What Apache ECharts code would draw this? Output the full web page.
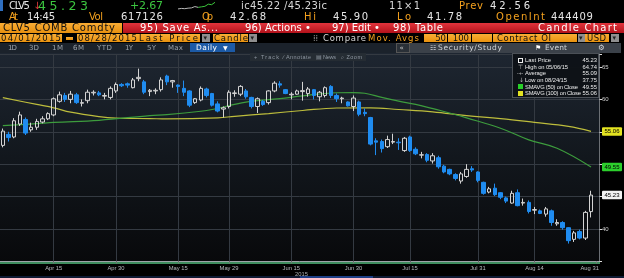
<!DOCTYPE html>
<html><head><meta charset="utf-8">
<script src="https://cdn.jsdelivr.net/npm/echarts@6/dist/echarts.min.js"></script>
<style>
html,body{margin:0;padding:0;background:#000;}
#wrap{position:relative;width:624px;height:278px;overflow:hidden;background:#000;}
.abs{position:absolute;white-space:nowrap;}
</style></head><body>
<div id="wrap">
  <div class="abs" style="left:0;top:52.5px;width:600px;height:209px;background:linear-gradient(#1e2631,#12171d 50%,#08090b);"></div>
  <div class="abs" style="left:0;top:261.8px;width:600px;height:2.4px;background:#3f8d5e;"></div>
  <div class="abs" style="left:0;top:276px;width:624px;height:2px;background:#0e1a33;"></div>
  <div class="abs" style="left:300px;top:276px;width:73px;height:2px;background:#1d3f86;"></div>
  <div id="chart" class="abs" style="left:0;top:0;width:624px;height:278px;"></div>
  <div id="ui"></div>
</div>
<script>
// ---------- DATA ----------
const dates = ['04-01','04-02','04-06','04-07','04-08','04-09','04-10','04-13','04-14','04-15','04-16','04-17','04-20','04-21','04-22','04-23','04-24','04-27','04-28','04-29','04-30',
 '05-01','05-04','05-05','05-06','05-07','05-08','05-11','05-12','05-13','05-14','05-15','05-18','05-19','05-20','05-21','05-22','05-26','05-27','05-28','05-29',
 '06-01','06-02','06-03','06-04','06-05','06-08','06-09','06-10','06-11','06-12','06-15','06-16','06-17','06-18','06-19','06-22','06-23','06-24','06-25','06-26','06-29','06-30',
 '07-01','07-02','07-06','07-07','07-08','07-09','07-10','07-13','07-14','07-15','07-16','07-17','07-20','07-21','07-22','07-23','07-24','07-27','07-28','07-29','07-30','07-31',
 '08-03','08-04','08-05','08-06','08-07','08-10','08-11','08-12','08-13','08-14','08-17','08-18','08-19','08-20','08-21','08-24','08-25','08-26','08-27','08-28','08-31'];
const opens = [52.9,54.6,54.2,56.2,56.9,55.3,55.7,56.5,57.0,57.6,
 59.7,60.6,60.0,60.7,59.4,59.8,61.0,61.0,60.5,60.3,
 61.3,62.3,62.4,61.8,63.2,62.7,61.2,61.3,61.5,63.6,
 62.7,62.2,61.7,61.3,59.5,59.9,61.6,60.9,59.3,58.5,
 58.9,60.9,60.8,61.3,60.3,58.9,59.7,59.5,61.3,62.4,
 61.5,60.7,60.8,61.2,60.9,61.5,60.4,60.6,62.0,60.6,
 60.1,59.6,58.9,59.6,58.0,57.2,53.6,53.5,52.7,53.4,
 53.4,52.1,54.2,52.3,51.4,51.5,50.5,51.0,49.7,49.2,
 48.4,47.4,48.1,49.3,48.8,47.2,45.7,46.3,45.6,44.8,
 44.0,45.6,44.0,44.1,42.9,42.8,42.3,42.8,40.8,41.0,
 40.2,38.4,39.6,38.6,42.68];
const closes = [55.1,54.1,56.7,57.6,54.8,55.7,56.6,57.0,57.8,60.1,
 60.7,60.0,60.8,59.5,59.5,61.1,61.1,60.7,60.6,61.7,
 62.3,62.1,62.2,63.0,63.4,61.1,61.4,61.4,63.0,62.7,
 62.9,62.0,61.1,59.1,60.1,61.7,60.6,59.1,58.2,58.7,
 61.1,61.0,62.0,60.4,58.9,60.1,59.2,61.3,62.5,62.2,
 60.9,60.8,61.3,61.35,61.6,60.6,61.1,61.8,60.6,60.1,
 60.2,59.0,60.2,57.7,57.8,53.1,53.4,52.4,53.8,53.5,
 53.3,54.0,52.1,51.6,51.45,50.6,51.3,49.6,48.8,48.5,
 47.8,48.5,49.2,49.1,47.5,45.5,46.2,45.3,44.9,44.3,
 45.5,43.6,44.1,42.7,43.0,42.4,43.1,41.0,41.0,40.2,
 38.2,39.4,38.6,42.56,45.23];
const lows = [52.6,53.5,54.0,55.9,54.5,55.0,55.3,56.3,56.8,57.4,
 59.5,59.6,59.4,59.3,58.9,59.4,60.6,60.5,60.0,60.0,
 61.0,61.9,61.8,61.7,62.8,60.8,60.5,60.8,61.2,62.2,
 61.8,61.0,60.5,58.8,59.3,59.7,60.3,58.9,58.0,57.2,
 58.6,60.4,60.5,60.1,58.6,57.9,59.0,59.2,61.1,61.8,
 60.8,60.0,60.7,59.8,60.4,60.0,59.7,60.3,60.2,59.6,
 59.4,58.9,58.2,57.4,57.4,52.9,51.4,51.8,52.5,53.1,
 52.2,51.9,51.9,51.4,50.9,50.3,50.1,49.3,48.6,48.3,
 47.5,47.0,47.9,48.8,47.2,45.3,45.5,45.1,44.6,44.0,
 43.9,43.5,43.6,42.4,42.3,42.3,41.9,40.5,40.5,39.9,
 37.75,38.0,38.4,38.3,41.78];
const highs = [55.5,55.0,57.1,58.1,57.2,56.4,57.0,57.4,58.0,60.3,
 61.2,61.0,61.3,61.0,60.0,61.5,61.4,61.3,61.0,62.0,
 62.6,62.5,62.6,63.3,64.74,63.0,61.6,61.7,63.4,63.8,
 63.0,62.3,62.9,61.4,60.2,62.0,61.8,61.0,59.7,58.9,
 61.4,61.4,62.2,61.6,60.4,60.3,59.9,61.4,62.8,62.8,
 61.6,61.1,61.5,62.7,61.9,61.6,61.3,62.0,62.2,60.9,
 60.4,59.7,60.6,59.8,58.6,57.3,54.0,53.8,54.4,54.7,
 54.0,54.2,54.4,52.6,51.9,51.7,51.7,51.3,49.9,49.3,
 48.6,48.8,50.0,49.7,48.9,47.3,46.5,47.0,45.7,45.0,
 45.9,46.1,44.7,44.4,43.4,43.0,43.4,43.0,41.5,41.2,
 40.3,39.7,39.9,42.8,45.90];
// moving averages: [category index, value]
const sma50 = [[0,55.94],[6,56.25],[9,56.45],[17,56.77],[26,57.5],[29,57.66],[35,58.17],[37,58.44],[43,59.58],[49,60.11],[53,60.55],[59,61.02],[62,61.05],[64,60.94],[67,60.31],[70,59.73],[73,59.22],[78,58.13],[82,57.14],[88,55.55],[93,53.75],[98,52.45],[104,49.55]];
const sma100 = [[0,60.27],[6,59.22],[9,58.70],[12,58.02],[17,57.34],[20,57.11],[26,57.03],[29,56.98],[38,57.14],[41,57.39],[47,57.81],[53,58.28],[59,58.67],[65,58.70],[70,58.44],[76,58.08],[82,57.50],[88,57.03],[94,56.45],[100,55.83],[104,55.06]];
const tickKeys = ['04-15','04-30','05-15','05-29','06-15','06-30','07-15','07-31','08-14','08-31'];
const tickLabels = ['Apr 15','Apr 30','May 15','May 29','Jun 15','Jun 30','Jul 15','Jul 31','Aug 14','Aug 31'];
const yTickLabels = [40, 60, 65];
const sparkTimes = ['09:00','09:30','10:00','10:30','11:00','11:30','12:00','12:30','13:00','13:30','14:00','14:30'];
const sparkGrey = [42.7,42.9,42.8,43.0,43.1,43.6,43.3,'-','-','-','-','-'];
const sparkGreen = ['-','-','-','-','-','-',43.3,43.5,43.7,44.5,44.3,45.2];

// ---------- CHART ----------
const GRID_C = '#343a42';
const candleData = opens.map((o, i) => [o, closes[i], lows[i], highs[i]]);
const lastClose = closes[closes.length - 1];
const last50 = sma50[sma50.length - 1][1];
const last100 = sma100[sma100.length - 1][1];
function priceBox(v, bg) {
  return {yAxis: v, lineStyle: {color: 'rgba(0,0,0,0)', width: 0.01},
    label: {show: true, position: 'end', distance: 2.5, formatter: v.toFixed(2), backgroundColor: bg, color: '#000',
      fontSize: 6, fontFamily: 'Liberation Sans', padding: [1.5, 2.5, 1, 2.5], borderRadius: 1}};
}
const chart = echarts.init(document.getElementById('chart'), null, {renderer: 'canvas'});
chart.setOption({
  animation: false,
  backgroundColor: 'transparent',
  grid: [{left: -2, right: 24.5, top: 54, bottom: 16.6}, {left: 178, top: 1.5, width: 37, height: 8}],
  xAxis: [{
    type: 'category', data: dates, boundaryGap: true,
    axisLine: {show: true, lineStyle: {color: '#9ea3a8', width: 1}},
    axisTick: {show: true, alignWithLabel: true, length: 2, interval: (i, v) => tickKeys.includes(v), lineStyle: {color: '#777'}},
    axisLabel: {interval: (i, v) => tickKeys.includes(v), fontSize: 5.8, color: '#b8bcc0', margin: 3.5, fontFamily: 'Liberation Sans',
      formatter: v => { const k = tickKeys.indexOf(v); if (k < 0) return ''; return v === '08-31' ? '{r|' + tickLabels[k] + '}' : tickLabels[k]; },
      rich: {r: {fontSize: 5.8, color: '#b8bcc0', fontFamily: 'Liberation Sans', padding: [0, 14, 0, 0]}}},
    splitLine: {show: false}
  }, {type: 'category', gridIndex: 1, data: sparkTimes, show: false, boundaryGap: false}],
  yAxis: [{
    type: 'value', position: 'right', min: 35, max: 67, interval: 5,
    axisLine: {show: true, lineStyle: {color: '#6b6f74'}},
    axisTick: {show: true, length: 2.5, lineStyle: {color: '#ddd'}},
    axisLabel: {fontSize: 6, color: '#d0d0d0', margin: 2.5, fontFamily: 'Liberation Sans', formatter: v => yTickLabels.includes(v) ? String(v) : ''},
    splitLine: {show: true, lineStyle: {color: GRID_C, width: 1}}
  }, {type: 'value', gridIndex: 1, show: false, scale: true}],
  series: [
    {type: 'line', name: 'SMAVG (100)', data: sma100, smooth: 0.4, showSymbol: false, z: 1,
     lineStyle: {color: '#bdbd3c', width: 1.2},
     markLine: {silent: true, symbol: ['none', 'none'], animation: false, data: [priceBox(last100, '#e3e321')]}},
    {type: 'line', name: 'SMAVG (50)', data: sma50, smooth: 0.4, showSymbol: false, z: 1,
     lineStyle: {color: '#3d9c3d', width: 1.2},
     markLine: {silent: true, symbol: ['none', 'none'], animation: false, data: [priceBox(last50, '#2ccf2c')]}},
    {type: 'candlestick', name: 'CLV5', data: candleData, barWidth: 4, z: 2,
     itemStyle: {color: 'rgba(0,0,0,0)', color0: '#1f8cf0', borderColor: '#d4d4d4', borderColor0: '#1f8cf0', borderWidth: 1},
     markLine: {silent: true, symbol: ['none', 'none'], animation: false, z: 1,
       lineStyle: {color: GRID_C, width: 1, type: 'solid'}, label: {show: false},
       data: tickKeys.slice(0, -1).map(k => ({xAxis: k})).concat([priceBox(lastClose, '#f2f2f2')])}},
    {type: 'line', xAxisIndex: 1, yAxisIndex: 1, data: sparkGrey, showSymbol: false, lineStyle: {color: '#b9b9b9', width: 1}},
    {type: 'line', xAxisIndex: 1, yAxisIndex: 1, data: sparkGreen, showSymbol: false, lineStyle: {color: '#3cc63c', width: 1}}
  ]
});

// ---------- TERMINAL CHROME ----------
const ui = document.getElementById('ui');
const ORANGE = '#f4a11e', WHITE = '#e6e6e6';
function box(x, y, w, h, bg, extra) {
  const d = document.createElement('div'); d.className = 'abs';
  d.style.cssText += `left:${x}px;top:${y}px;width:${w}px;height:${h}px;background:${bg};` + (extra || '');
  ui.appendChild(d); return d;
}
function txt(s, x, yc, o) {
  o = o || {};
  const fs = o.fs || 10;
  const d = document.createElement('div'); d.className = 'abs'; d.textContent = s;
  d.style.fontSize = fs + 'px';
  d.style.fontFamily = o.ff || '"DejaVu Sans", sans-serif';
  d.style.color = o.c || WHITE;
  if (o.b) d.style.fontWeight = 'bold';
  const h = Math.ceil(fs * 1.3);
  d.style.lineHeight = h + 'px'; d.style.height = h + 'px';
  d.style.top = (yc - h / 2) + 'px'; d.style.left = '0px';
  ui.appendChild(d);
  const nat = d.getBoundingClientRect().width;
  const n = Array.from(s).length;
  let ls = 0;
  if (o.w && n > 1) { ls = (o.w - nat) / (n - 1); d.style.letterSpacing = ls + 'px'; }
  const vis = nat + ls * (n - 1);
  d.style.left = (o.right ? x - vis : x) + 'px';
  return d;
}
// row 1
box(0, 0, 3, 11, '#2f6fc0');
txt('CLV5', 9, 5.5, {fs: 10, w: 21});
txt('↓', 33, 5.5, {fs: 10, c: '#e23b3b'});
txt('45.23', 38, 5.5, {fs: 12.5, w: 50, c: '#3cc640'});
txt('+2.67', 130, 5.5, {fs: 11, w: 33, c: '#3cc640'});
txt('ic45.22 /45.23ic', 241, 5.5, {fs: 10, w: 86, c: '#d8d8d8'});
txt('11×1', 389, 5.5, {fs: 10, w: 31, c: '#d8d8d8'});
txt('Prev', 459, 5.5, {fs: 10, w: 24, c: ORANGE});
txt('42.56', 490, 5.5, {fs: 10, w: 40});
// row 2
const r2 = 16.8;
[['At',9,9,ORANGE],['14:45',27,28,WHITE],['Vol',89,14,ORANGE],['617126',121,42,WHITE],['Op',202,11,ORANGE],['42.68',230,36,WHITE],
 ['Hi',304,12,ORANGE],['45.90',333,35,WHITE],['Lo',397,14,ORANGE],['41.78',427,35,WHITE],['OpenInt',496,49,ORANGE],['444409',551,42,WHITE]]
 .forEach(a => txt(a[0], a[1], r2, {fs: 10, w: a[2], c: a[3]}));
// row 3
box(0, 22.5, 122, 10.8, 'linear-gradient(#f9ad35,#e8900f)');
txt('CLV5 COMB Comdty', 3, 27.9, {fs: 10, w: 112, c: '#111'});
box(123, 22.5, 501, 10.8, 'linear-gradient(#e2343c,#b3121b)');
txt('95) Save As...', 140, 27.9, {fs: 10, w: 78, c: '#fff'});
txt('96) Actions •', 245, 27.9, {fs: 10, w: 66, c: '#fff'});
txt('97) Edit •', 332, 27.9, {fs: 10, w: 48, c: '#fff'});
txt('98) Table', 393, 27.9, {fs: 10, w: 50, c: '#fff'});
txt('Candle Chart', 617, 27.9, {fs: 10, w: 79, c: '#fff', right: true});
// row 4
const r4 = 38;
const ob = 'linear-gradient(#f9ad35,#ea930f)';
box(0, 33.6, 62, 8.8, ob); txt('04/01/2015', 1, r4, {fs: 8.5, w: 60, c: '#111'});
box(66, 36.5, 7, 3.5, ob);
box(77, 33.6, 123, 8.8, ob); txt('08/28/2015', 78, r4, {fs: 8.5, w: 59, c: '#111'}); txt('Last Price', 139, r4, {fs: 8.5, w: 59, c: '#111'});
box(202, 34, 8, 8, '#8f8f8f'); txt('▾', 203.5, r4, {fs: 7, c: '#222'});
box(213, 33.6, 35, 8.8, ob, 'overflow:hidden;'); txt('Candle', 214, r4, {fs: 8.5, w: 34, c: '#111'});
box(249, 34, 8, 8, '#8f8f8f'); txt('▾', 250.5, r4, {fs: 7, c: '#222'});
txt('⁞⁞', 313, r4, {fs: 8, c: '#9a9a9a'});
txt('Compare', 323, r4, {fs: 8.5, w: 43, c: '#d6d6d6'});
txt('Mov. Avgs', 368, r4, {fs: 8.5, w: 51, c: ORANGE});
box(424, 33.6, 23, 8.8, ob); txt('50', 446, r4, {fs: 8.5, c: '#111', right: true});
box(448, 33.6, 23, 8.8, ob); txt('100', 469, r4, {fs: 8.5, c: '#111', right: true});
box(472, 33.6, 20, 8.8, ob);
box(493, 33.6, 84, 8.8, ob); txt('Contract OI', 497, r4, {fs: 8.5, w: 54, c: '#111'});
box(578, 34, 7, 8, '#8f8f8f'); txt('▾', 579, r4, {fs: 7, c: '#222'});
box(585, 33.6, 24, 8.8, ob); txt('USD', 587, r4, {fs: 8.5, w: 19, c: '#111'});
box(611, 34, 8, 8, '#8f8f8f'); txt('▾', 612.5, r4, {fs: 7, c: '#222'});
// row 5
const r5 = 47.6;
box(0, 42.6, 396, 10, '#1b222b');
[['1D',8,9],['3D',29,10],['1M',52,11],['6M',73,11],['YTD',97,15],['1Y',125,8],['5Y',147,9],['Max',168,15]]
 .forEach(a => txt(a[0], a[1], r5, {fs: 7, w: a[2], c: '#9ca3ab'}));
box(190, 42.8, 45, 9.6, '#1c5aa6');
txt('Daily', 196, r5, {fs: 7.5, w: 21, c: '#fff'});
txt('▼', 223, r5, {fs: 6, c: '#fff'});
box(396, 42.6, 14, 10, '#2a3037', 'box-sizing:border-box;border:1px solid #555;');
txt('«', 399.5, r5, {fs: 7, c: '#ccc'});
box(410, 42.6, 211, 10, '#3b4149');
txt('☷', 430, r5, {fs: 7, c: '#cfd3d8'});
txt('Security/Study', 438, r5, {fs: 7.5, w: 64, c: '#d0d4d8'});
txt('⚑', 535, r5, {fs: 7, c: '#fff'});
txt('Event', 545, r5, {fs: 7.5, w: 22, c: '#d0d4d8'});
txt('⚙', 598, r5, {fs: 7.5, c: '#d0d4d8'});
// chart toolbar
box(250, 52.5, 116, 8.6, 'rgba(38,44,52,0.95)');
[['+ Track',254,25],['∕ Annotate',283,28],['▤ News',316,20],['⌕ Zoom',341,21]]
 .forEach(a => txt(a[0], a[1], 56.8, {fs: 5.5, w: a[2], c: '#8f98a2', ff: '"Liberation Sans", sans-serif'}));
// legend box
box(512, 53, 87, 44.5, 'rgba(14,18,23,0.96)', 'box-sizing:border-box;border:1px solid #4b5057;');
const LF = '"Liberation Sans", sans-serif';
const legRows = [
  ['Last Price', '45.23', 26], ['High on 05/06/15', '64.74', 43], ['Average', '55.09', 21],
  ['Low on 08/24/15', '37.75', 42], ['SMAVG (50) on Close', '49.55', 53], ['SMAVG (100) on Close', '55.06', 56]];
const legY = [60, 66.7, 73.4, 80.1, 86.8, 93.2];
legRows.forEach((r, i) => {
  txt(r[0], 525, legY[i], {fs: 5.8, w: r[2], c: '#ececec', ff: LF});
  txt(r[1], 597, legY[i], {fs: 5.8, c: '#ececec', ff: LF, right: true});
});
box(518, 57.5, 5, 5, 'transparent', 'box-sizing:border-box;border:1px solid #f0f0f0;');
txt('⊤', 518, legY[1], {fs: 6, c: '#bbb'});
txt('-+-', 517, legY[2], {fs: 5, c: '#bbb', ff: LF});
txt('↓', 519, legY[3], {fs: 6, c: '#bbb'});
box(518, 84.3, 5, 5, '#27d027');
box(518, 90.7, 5, 5, '#e3e321');
// year under axis
txt('2015', 295, 274.3, {fs: 5.8, c: '#a8acb0', ff: LF});
</script>
</body></html>
